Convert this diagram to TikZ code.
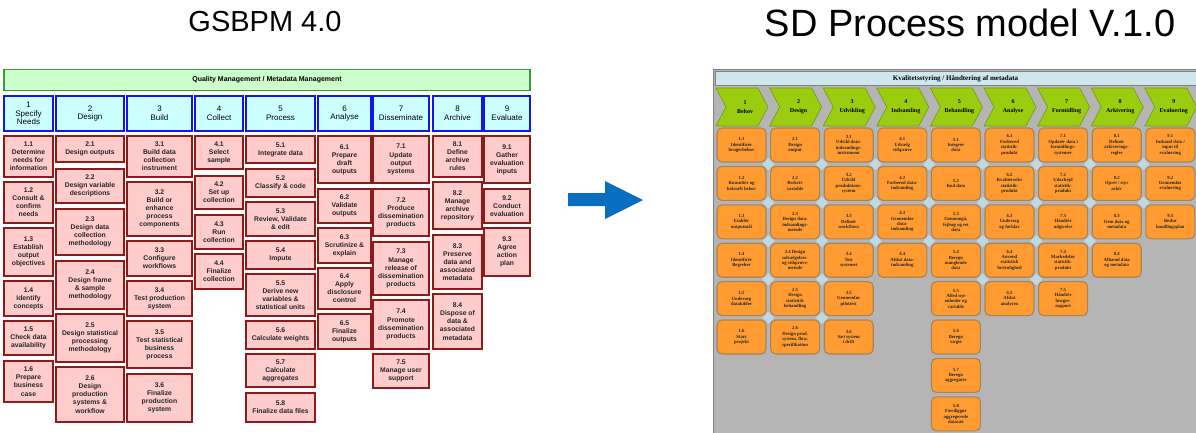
\documentclass[tikz,border=0pt]{standalone}
\usepackage{fontspec}
\setmainfont{Liberation Sans}
\newfontfamily\serifdk{Liberation Serif}
\definecolor{boxpink}{HTML}{FFCCCC}
\definecolor{boxred}{HTML}{8E1B1B}
\definecolor{hdcyan}{HTML}{CCFFFF}
\definecolor{hdblue}{HTML}{1414F0}
\definecolor{qmgreen}{HTML}{CCFFCC}
\definecolor{qmborder}{HTML}{3A9A3A}
\definecolor{arrowblue}{HTML}{0A6EC0}
\definecolor{panelgray}{HTML}{B5B5B5}
\definecolor{barblue}{HTML}{CDE7ED}
\definecolor{chevgreen}{HTML}{9ACD10}
\definecolor{chevborder}{HTML}{6E9A10}
\definecolor{orangebox}{HTML}{FF9B30}
\definecolor{orangeborder}{HTML}{A5845A}
\definecolor{diamblue}{HTML}{BFD8E2}
\definecolor{textdark}{HTML}{262626}
\newcommand\lbf{\fontsize{6.8}{8.1}\selectfont\bfseries}
\newcommand\hdf{\fontsize{8}{8.6}\selectfont}
\newcommand\rbf{\serifdk\fontsize{4.7}{5.4}\selectfont\bfseries}
\newcommand\chf{\serifdk\fontsize{6}{9}\selectfont\bfseries}
\newcommand\gb[6]{\node[lbox, minimum width={(#3-#2)*1pt}, minimum height={(#5-#4)*1pt}] (#1) at ({(#2+#3)/2},{(#4+#5)/2}) {#6};}
\newcommand\ph[5]{\node[hbox, minimum width={(#3-#2)*1pt}, minimum height=35pt] (#1) at ({(#2+#3)/2},113.5) {#4\\#5};}
\newcommand\ob[3]{\node[obox] (o#1#2) at ({717+53.6*(#1-1)+24.5},{128+38.4*(#2-1)+17}) {#3};}
\newcommand\chev[3]{%
  \draw[chevshape] ({716+53.6*(#1-1)},88) -- ++(42,0) -- ++(10,19) -- ++(-10,19) -- ++(-42,0) -- ++(10,-19) -- cycle;
  \node[chevtext] (c#1) at ({716+53.6*(#1-1)+29},107) {#2\\#3};}
\begin{document}
\begin{tikzpicture}[x=1pt,y=-1pt,
  lbox/.style={draw=boxred, fill=boxpink, line width=1.7pt, inner sep=0pt, align=center, font=\lbf, text=textdark},
  hbox/.style={draw=hdblue, fill=hdcyan, line width=1.7pt, inner sep=0pt, align=center, font=\hdf, text=black},
  obox/.style={draw=orangeborder, fill=orangebox, line width=1.1pt, rounded corners=5pt, minimum width=49pt, minimum height=34pt, inner sep=0pt, align=center, font=\rbf, text=textdark},
  chevshape/.style={draw=chevborder, fill=chevgreen, line width=0.6pt},
  chevtext/.style={align=center, font=\chf, inner sep=0pt, text=black},
  title/.style={text=black, inner sep=0pt}]
\useasboundingbox (0,0) rectangle (1196,432);
\fill[white] (0,0) rectangle (1196,432);
% titles
\node[title, font=\fontsize{29}{34}\selectfont] (t1) at (265,22) {GSBPM 4.0};
\node[title, font=\fontsize{38}{44}\selectfont] (t2) at (970,23) {SD Process model V.1.0};
% arrow
\fill[arrowblue] (568,193) -- (605,193) -- (605,181) -- (643,200) -- (605,219) -- (605,206) -- (568,206) -- cycle;
% ---------------- GSBPM -----------------
\node[draw=qmborder, fill=qmgreen, line width=1.5pt, minimum width=526pt, minimum height=21pt, inner sep=0pt, font=\fontsize{7}{8}\selectfont\bfseries] (qm) at (267,80) {Quality Management / Metadata Management};
\ph{h1}{4}{53}{1}{Specify\\Needs}
\ph{h2}{56}{124}{2}{Design}
\ph{h3}{127}{192}{3}{Build}
\ph{h4}{195}{243}{4}{Collect}
\ph{h5}{246}{315}{5}{Process}
\ph{h6}{318}{371}{6}{Analyse}
\ph{h7}{373}{429}{7}{Disseminate}
\ph{h8}{433}{482}{8}{Archive}
\ph{h9}{484}{530}{9}{Evaluate}
% col 1
\gb{g11}{4}{53}{136}{177}{1.1\\Determine\\needs for\\information}
\gb{g12}{4}{53}{182}{223}{1.2\\Consult \&\\confirm\\needs}
\gb{g13}{4}{53}{228}{276}{1.3\\Establish\\output\\objectives}
\gb{g14}{4}{53}{281}{316}{1.4\\Identify\\concepts}
\gb{g15}{4}{53}{321}{355}{1.5\\Check data\\availability}
\gb{g16}{4}{53}{361}{402}{1.6\\Prepare\\business\\case}
% col 2
\gb{g21}{56}{124}{136}{162}{2.1\\Design outputs}
\gb{g22}{56}{124}{169}{203}{2.2\\Design variable\\descriptions}
\gb{g23}{56}{124}{209}{255}{2.3\\Design data\\collection\\methodology}
\gb{g24}{56}{124}{261}{309}{2.4\\Design frame\\\& sample\\methodology}
\gb{g25}{56}{124}{314}{362}{2.5\\Design statistical\\processing\\methodology}
\gb{g26}{56}{124}{367}{422}{2.6\\Design\\production\\systems \&\\workflow}
% col 3
\gb{g31}{127}{192}{136}{177}{3.1\\Build data\\collection\\instrument}
\gb{g32}{127}{192}{182}{236}{3.2\\Build or\\enhance\\process\\components}
\gb{g33}{127}{192}{241}{276}{3.3\\Configure\\workflows}
\gb{g34}{127}{192}{281}{316}{3.4\\Test production\\system}
\gb{g35}{127}{192}{321}{368}{3.5\\Test statistical\\business\\process}
\gb{g36}{127}{192}{374}{422}{3.6\\Finalize\\production\\system}
% col 4
\gb{g41}{195}{243}{136}{169}{4.1\\Select\\sample}
\gb{g42}{195}{243}{176}{209}{4.2\\Set up\\collection}
\gb{g43}{195}{243}{215}{249}{4.3\\Run\\collection}
\gb{g44}{195}{243}{254}{289}{4.4\\Finalize\\collection}
% col 5
\gb{g51}{246}{315}{136}{163}{5.1\\Integrate data}
\gb{g52}{246}{315}{169}{197}{5.2\\Classify \& code}
\gb{g53}{246}{315}{202}{236}{5.3\\Review, Validate\\\& edit}
\gb{g54}{246}{315}{241}{269}{5.4\\Impute}
\gb{g55}{246}{315}{274}{316}{5.5\\Derive new\\variables \&\\statistical units}
\gb{g56}{246}{315}{321}{349}{5.6\\Calculate weights}
\gb{g57}{246}{315}{354}{387}{5.7\\Calculate\\aggregates}
\gb{g58}{246}{315}{393}{422}{5.8\\Finalize data files}
% col 6
\gb{g61}{318}{371}{136}{183}{6.1\\Prepare\\draft\\outputs}
\gb{g62}{318}{371}{189}{223}{6.2\\Validate\\outputs}
\gb{g63}{318}{371}{228}{263}{6.3\\Scrutinize \&\\explain}
\gb{g64}{318}{371}{268}{309}{6.4\\Apply\\disclosure\\control}
\gb{g65}{318}{371}{314}{349}{6.5\\Finalize\\outputs}
% col 7
\gb{g71}{373}{429}{136}{183}{7.1\\Update\\output\\systems}
\gb{g72}{373}{429}{189}{236}{7.2\\Produce\\dissemination\\products}
\gb{g73}{373}{429}{242}{295}{7.3\\Manage\\release of\\dissemination\\products}
\gb{g74}{373}{429}{300}{349}{7.4\\Promote\\dissemination\\products}
\gb{g75}{373}{429}{354}{388}{7.5\\Manage user\\support}
% col 8
\gb{g81}{433}{482}{136}{177}{8.1\\Define\\archive\\rules}
\gb{g82}{433}{482}{182}{229}{8.2\\Manage\\archive\\repository}
\gb{g83}{433}{482}{235}{289}{8.3\\Preserve\\data and\\associated\\metadata}
\gb{g84}{433}{482}{294}{349}{8.4\\Dispose of\\data \&\\associated\\metadata}
% col 9
\gb{g91}{484}{530}{136}{183}{9.1\\Gather\\evaluation\\inputs}
\gb{g92}{484}{530}{189}{223}{9.2\\Conduct\\evaluation}
\gb{g93}{484}{530}{228}{276}{9.3\\Agree\\action\\plan}
% ---------------- SD process model -----------------
\draw[fill=panelgray, draw=gray, line width=0.6pt] (713,69) rectangle (1197,433);
\node[draw=gray, fill=barblue, line width=0.6pt, minimum width=481pt, minimum height=14pt, inner sep=0pt, font=\serifdk\fontsize{7}{8}\selectfont\bfseries] (bar) at (955.5,78.5) {Kvalitetsstyring / Håndtering af metadata};
\chev{1}{1}{Behov}
\chev{2}{2}{Design}
\chev{3}{3}{Udvikling}
\chev{4}{4}{Indsamling}
\chev{5}{5}{Behandling}
\chev{6}{6}{Analyse}
\chev{7}{7}{Formidling}
\chev{8}{8}{Arkivering}
\chev{9}{9}{Evaluering}
\foreach \c/\n in {1/5,2/5,3/3,4/3,5/4,6/4,7/3,8/2}{
  \foreach \r in {1,...,\n}{
    \fill[diamblue] ({717+53.6*\c-2.3},{128+38.4*\r-2.2}) +(-6,0) -- +(0,-6) -- +(6,0) -- +(0,6) -- cycle;
  }
}
% col 1
\ob{1}{1}{1.1\\Identificér\\brugerbehov}
\ob{1}{2}{1.2\\Konsultér og\\bekræft behov}
\ob{1}{3}{1.3\\Etablér\\outputmål}
\ob{1}{4}{1.4\\Identificér\\Begreber}
\ob{1}{5}{1.5\\Undersøg\\datakilder}
\ob{1}{6}{1.6\\Start\\projekt}
% col 2
\ob{2}{1}{2.1\\Design\\output}
\ob{2}{2}{2.2\\Beskriv\\variable}
\ob{2}{3}{2.3\\Design data-\\indsamlings-\\metode}
\ob{2}{4}{2.4 Design\\udvælgelses-\\og stikprøve-\\metode}
\ob{2}{5}{2.5\\Design\\statistisk\\behandling}
\ob{2}{6}{2.6\\Design prod.\\system, flow,\\specifikation}
% col 3
\ob{3}{1}{3.1\\Udvikl data-\\indsamlings-\\instrument}
\ob{3}{2}{3.2\\Udvikl\\produktions-\\system}
\ob{3}{3}{3.3\\Definér\\workflows}
\ob{3}{4}{3.4\\Test\\systemet}
\ob{3}{5}{3.5\\Gennemfør\\pilottest}
\ob{3}{6}{3.6\\Sæt system\\i drift}
% col 4
\ob{4}{1}{4.1\\Udvælg\\stikprøve}
\ob{4}{2}{4.2\\Forbered data-\\indsamling}
\ob{4}{3}{4.3\\Gennemfør\\data-\\indsamling}
\ob{4}{4}{4.4\\Afslut data-\\indsamling}
% col 5
\ob{5}{1}{5.1\\Integrér\\data}
\ob{5}{2}{5.2\\Kod data}
\ob{5}{3}{5.3\\Gennemgå,\\fejlsøg og ret\\data}
\ob{5}{4}{5.4\\Beregn\\manglende\\data}
\ob{5}{5}{5.5\\Afled nye\\enheder og\\variable}
\ob{5}{6}{5.6\\Beregn\\vægte}
\ob{5}{7}{5.7\\Beregn\\aggregater}
\ob{5}{8}{5.8\\Færdiggør\\aggregerede\\datasæt}
% col 6
\ob{6}{1}{6.1\\Forbered\\statistik-\\produkt}
\ob{6}{2}{6.2\\Kvalitetssikr\\statistik-\\produkt}
\ob{6}{3}{6.3\\Undersøg\\og forklar}
\ob{6}{4}{6.4\\Anvend\\statistisk\\fortrolighed}
\ob{6}{5}{6.5\\Afslut\\analysen}
% col 7
\ob{7}{1}{7.1\\Opdatér data i\\formidlings-\\systemer}
\ob{7}{2}{7.2\\Udarbejd\\statistik-\\produkt}
\ob{7}{3}{7.3\\Håndtér\\udgivelse}
\ob{7}{4}{7.4\\Markedsfør\\statistik-\\produkt}
\ob{7}{5}{7.5\\Håndtér\\bruger-\\support}
% col 8
\ob{8}{1}{8.1\\Definér\\arkiverings-\\regler}
\ob{8}{2}{8.2\\Opret / styr\\arkiv}
\ob{8}{3}{8.3\\Gem data og\\metadata}
\ob{8}{4}{8.4\\Afhænd data\\og metadata}
% col 9
\ob{9}{1}{9.1\\Indsaml data /\\input til\\evaluering}
\ob{9}{2}{9.2\\Gennemfør\\evaluering}
\ob{9}{3}{9.3\\Beslut\\handlingsplan}
\end{tikzpicture}
\end{document}
